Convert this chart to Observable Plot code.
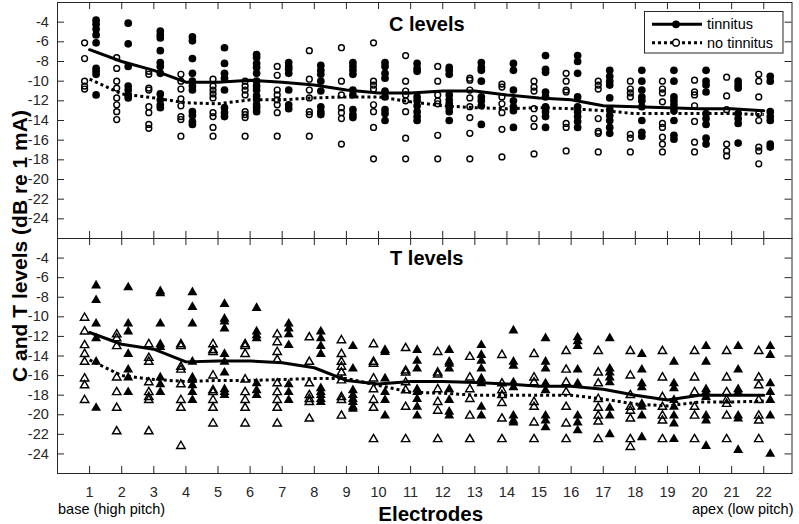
<!DOCTYPE html>
<html>
<head>
<meta charset="utf-8">
<script src="https://cdn.jsdelivr.net/npm/d3@7"></script>
<script src="https://cdn.jsdelivr.net/npm/@observablehq/plot@0.6"></script>
<style>
  html, body { margin: 0; padding: 0; background: #fff; }
  body { font-family: "Liberation Sans", Arial, Helvetica, sans-serif; }
  #wrap { position: relative; width: 799px; height: 524px; overflow: hidden; }
  #top, #bot { position: absolute; left: 0; }
  #top { top: 0; }
  #bot { top: 237px; }
  #ylab { position: absolute; left: 19px; top: 246px; transform: translate(-50%, -50%) rotate(-90deg);
          font-weight: bold; font-size: 21px; white-space: nowrap; color: #000; line-height: 1; }
  #legend { position: absolute; left: 644px; top: 11px; }
</style>
</head>
<body>
<div id="wrap">
  <div id="top"></div>
  <div id="bot"></div>
  <div id="ylab">C and T levels (dB re 1 mA)</div>
  <svg id="legend" width="140" height="43" font-family="Liberation Sans, Arial, sans-serif">
    <rect x="0.5" y="0.5" width="138.5" height="41.5" fill="#fff" stroke="#262626" stroke-width="1"></rect>
    <line x1="8" y1="13.3" x2="58" y2="13.3" stroke="#000" stroke-width="3"></line>
    <circle cx="32" cy="13.3" r="3.9" fill="#000"></circle>
    <text x="63" y="13.3" font-size="14.5" dominant-baseline="central" fill="#000">tinnitus</text>
    <line x1="8" y1="31.7" x2="58" y2="31.7" stroke="#000" stroke-width="3" stroke-dasharray="3,3"></line>
    <circle cx="32" cy="31.7" r="3.4" fill="#fff" stroke="#000" stroke-width="1.5"></circle>
    <text x="63" y="31.7" font-size="14.5" dominant-baseline="central" fill="#000">no tinnitus</text>
  </svg>
</div>
<script>
// ---------- data ----------
const electrodes = [1,2,3,4,5,6,7,8,9,10,11,12,13,14,15,16,17,18,19,20,21,22];
const yTicks = [-24,-22,-20,-18,-16,-14,-12,-10,-8,-6,-4];

// C levels, tinnitus group (filled circles), per electrode
const cTinnitus = [
  [-3.8,-4.2,-4.7,-5.3,-6.1,-8.7,-9.0,-9.3,-11.4],
  [-4.1,-6.2,-8.5,-10.5,-10.9,-11.4,-11.7],
  [-4.9,-5.3,-5.6,-6.9,-8.1,-8.5,-9.2,-11.3,-11.9,-12.4,-12.7],
  [-5.5,-5.9,-7.7,-9.2,-10.0,-10.5,-10.9,-13.1,-13.5,-14.1,-14.4],
  [-6.6,-8.2,-9.2,-9.7,-10.9,-12.7,-13.2,-13.6],
  [-7.3,-7.6,-8.2,-8.6,-9.2,-10.0,-10.5,-10.9,-11.5,-11.9,-12.4,-12.7,-13.1],
  [-8.1,-8.5,-8.8,-9.2,-10.9,-12.4,-12.8],
  [-8.4,-8.9,-9.3,-10.0,-11.0,-12.6,-13.1,-13.4],
  [-8.1,-8.5,-8.9,-9.3,-10.9,-11.4,-12.9,-13.4,-13.7],
  [-8.1,-8.5,-9.2,-9.7,-11.0,-11.6,-12.9,-13.3,-14.0],
  [-8.2,-8.7,-9.0,-11.6,-12.0,-12.5,-13.1,-13.6,-14.0],
  [-8.6,-8.9,-9.3,-11.4,-11.9,-12.3,-12.7,-13.1,-14.0],
  [-8.1,-8.6,-8.9,-10.0,-11.6,-12.0,-12.5,-14.4],
  [-8.2,-8.9,-10.9,-12.0,-12.6,-13.0,-14.7],
  [-7.4,-8.8,-9.1,-11.1,-11.6,-12.6,-13.1,-13.6,-14.7],
  [-7.4,-8.0,-9.2,-11.6,-12.6,-13.1,-13.6,-14.1,-14.7],
  [-8.9,-9.5,-10.0,-10.4,-11.7,-12.9,-13.5,-14.0,-14.7,-15.3],
  [-8.9,-10.0,-10.9,-11.6,-12.0,-12.6,-14.0,-15.2,-15.6],
  [-8.9,-10.0,-11.6,-12.0,-12.4,-13.0,-14.0,-15.5,-15.9],
  [-8.9,-10.0,-10.4,-11.1,-13.3,-13.8,-14.4,-15.8,-16.4],
  [-10.0,-10.4,-10.7,-13.3,-13.8,-14.3,-16.3],
  [-9.5,-10.0,-13.1,-13.6,-14.0,-16.4,-16.7]
];
// C levels, no-tinnitus group (open circles)
const cNoTinnitus = [
  [-6.1,-7.7,-10.0,-10.5,-10.8],
  [-7.6,-8.7,-10.0,-10.7,-11.7,-12.4,-13.1,-13.9],
  [-9.0,-9.3,-10.7,-10.9,-12.6,-13.2,-14.4,-14.8],
  [-9.3,-10.0,-10.8,-11.8,-12.5,-13.6,-13.9,-15.6],
  [-9.8,-10.5,-10.9,-11.3,-11.7,-13.2,-13.6,-14.7,-15.6],
  [-10.0,-10.5,-10.9,-11.4,-13.1,-13.4,-13.7,-15.6],
  [-8.5,-9.4,-10.9,-11.4,-11.9,-12.4,-13.2,-15.6],
  [-6.9,-9.8,-10.9,-11.7,-13.1,-13.4,-15.6],
  [-6.6,-10.0,-11.4,-12.7,-13.2,-13.8,-16.4],
  [-6.1,-10.0,-10.4,-10.8,-12.4,-13.1,-14.7,-17.9],
  [-7.4,-10.0,-11.0,-11.4,-12.0,-13.1,-15.8,-17.9],
  [-8.5,-10.0,-11.4,-12.0,-12.3,-15.5,-17.9],
  [-9.7,-9.9,-10.9,-11.7,-12.6,-13.7,-15.3,-17.9],
  [-10.3,-10.6,-11.6,-12.3,-13.2,-14.9,-17.7],
  [-10.0,-10.6,-11.0,-12.8,-13.8,-14.6,-17.4],
  [-9.2,-10.0,-10.9,-11.1,-14.3,-14.7,-17.1],
  [-10.0,-10.4,-10.8,-13.8,-15.1,-15.3,-17.2],
  [-10.0,-10.8,-11.2,-11.6,-15.4,-15.8,-17.2],
  [-10.0,-10.8,-11.2,-12.1,-14.3,-14.7,-15.7,-16.4,-17.2],
  [-9.9,-11.1,-11.4,-12.5,-14.1,-16.2,-17.2],
  [-9.6,-11.5,-12.9,-16.4,-17.1,-17.6],
  [-9.3,-10.0,-11.6,-13.3,-14.0,-16.7,-17.1,-18.4]
];
const cMeanTinnitus   = [-6.8,-8.0,-8.9,-10.1,-10.1,-9.9,-10.1,-10.4,-10.9,-11.2,-11.2,-11.0,-11.0,-11.4,-11.7,-11.9,-12.5,-12.6,-12.7,-12.8,-12.8,-13.0];
const cMeanNoTinnitus = [-9.8,-11.3,-11.7,-12.2,-12.3,-11.9,-11.9,-11.7,-11.6,-11.6,-12.1,-12.5,-12.7,-12.8,-12.7,-12.8,-13.0,-13.3,-13.3,-13.3,-13.3,-13.4];

// T levels, tinnitus group (filled triangles)
const tTinnitus = [
  [-6.8,-8.3,-10.7,-12.2,-14.6,-19.3],
  [-7.0,-10.7,-11.5,-13.8,-15.4,-16.2,-17.7],
  [-7.4,-7.6,-10.7,-12.8,-13.1,-16.2,-16.9,-17.7],
  [-7.5,-9.0,-10.7,-14.6,-16.2,-16.4,-17.0,-17.7,-18.5],
  [-8.7,-10.2,-10.5,-11.2,-13.8,-14.6,-15.7,-17.4,-17.7,-18.0],
  [-9.1,-11.5,-11.9,-12.2,-16.8,-17.5,-18.0],
  [-10.7,-11.2,-11.8,-12.9,-16.9,-17.7,-18.5],
  [-11.5,-12.2,-13.0,-13.8,-17.3,-17.7,-18.0,-18.4,-18.7],
  [-13.0,-15.3,-17.5,-18.0,-18.4,-18.7,-19.2,-19.4],
  [-13.4,-13.6,-16.3,-17.7,-18.5,-20.1],
  [-13.4,-14.5,-15.3,-17.4,-17.7,-18.4,-19.2,-20.1],
  [-13.4,-14.6,-14.8,-15.3,-17.4,-18.5,-19.7,-20.1],
  [-12.9,-13.9,-14.5,-15.3,-16.3,-16.8,-19.2,-20.1],
  [-11.4,-14.6,-15.0,-16.7,-17.2,-20.1,-20.6,-20.8],
  [-12.2,-14.6,-15.3,-16.8,-17.5,-20.1,-20.6,-21.3],
  [-12.1,-12.5,-13.0,-15.4,-16.8,-20.1,-20.8,-21.6],
  [-12.2,-15.3,-15.7,-16.2,-16.7,-19.3,-20.1,-22.0],
  [-13.8,-15.4,-16.8,-17.2,-18.9,-19.2,-20.1,-22.3],
  [-14.6,-16.8,-17.3,-18.5,-19.2,-20.1,-20.9,-22.5],
  [-13.0,-14.6,-17.4,-17.7,-18.2,-20.1,-20.6,-23.2],
  [-13.0,-15.4,-17.4,-17.7,-20.1,-20.4,-23.6],
  [-13.0,-13.9,-16.8,-17.7,-18.5,-20.1,-24.0]
];
// T levels, no-tinnitus group (open triangles)
const tNoTinnitus = [
  [-10.1,-11.5,-12.9,-13.8,-14.6,-16.3,-17.0,-18.5],
  [-11.8,-12.2,-13.0,-16.2,-17.7,-19.3,-21.7],
  [-12.8,-14.2,-14.6,-16.7,-17.7,-18.2,-18.5,-21.7],
  [-12.8,-13.0,-15.1,-15.4,-16.9,-18.5,-19.3,-23.2],
  [-12.8,-13.4,-13.6,-16.0,-17.5,-17.7,-18.5,-19.3,-20.9],
  [-12.8,-13.0,-13.8,-16.4,-17.7,-18.5,-19.3,-20.9],
  [-11.8,-12.6,-13.6,-14.4,-16.8,-17.7,-18.5,-19.3,-20.9],
  [-12.1,-14.6,-16.8,-18.0,-18.4,-18.7,-20.4],
  [-12.4,-13.8,-14.6,-15.1,-15.7,-16.5,-18.2,-18.5,-20.1],
  [-12.8,-14.6,-14.8,-16.3,-17.4,-18.5,-19.3,-22.5],
  [-13.2,-15.5,-15.7,-16.7,-17.5,-19.2,-22.5],
  [-13.6,-15.7,-15.9,-17.4,-18.7,-19.6,-22.5],
  [-14.1,-16.2,-17.4,-18.4,-20.1,-22.5],
  [-13.9,-16.8,-17.5,-18.0,-18.8,-20.4,-22.5],
  [-13.8,-16.2,-16.7,-18.7,-19.2,-20.8,-22.5],
  [-13.5,-15.4,-16.7,-17.7,-19.2,-20.9,-22.5],
  [-13.5,-15.7,-16.8,-18.4,-19.3,-20.1,-20.7,-22.5],
  [-13.5,-16.0,-18.0,-19.2,-19.6,-20.4,-22.5,-23.3],
  [-13.5,-16.2,-18.2,-19.2,-20.1,-20.6,-22.5],
  [-13.5,-16.2,-17.7,-19.2,-20.1,-22.5],
  [-13.5,-16.2,-17.7,-18.5,-18.9,-20.1,-22.5],
  [-13.5,-16.2,-17.0,-18.5,-20.1,-20.6,-22.5]
];
const tMeanTinnitus   = [-11.6,-12.8,-13.3,-14.6,-14.5,-14.5,-14.7,-15.2,-16.5,-16.85,-16.6,-16.6,-16.7,-16.85,-17.1,-17.1,-17.4,-18.0,-18.5,-18.0,-18.0,-18.0];
const tMeanNoTinnitus = [-14.4,-16.0,-16.4,-16.6,-16.5,-16.5,-16.4,-16.3,-16.3,-17.0,-17.7,-17.8,-18.0,-18.0,-18.0,-18.0,-18.4,-18.9,-19.1,-18.7,-18.7,-18.6];

// ---------- helpers ----------
const AX = "#262626";
const FONT = "Liberation Sans, Arial, Helvetica, sans-serif";
const WIDTH = 799, ML = 57, MR = 7.5, TICK = 7;
const X_DOMAIN = [0, 22.88], Y_DOMAIN = [-26, -2];
const flatten = groups => groups.flatMap((vals, i) => vals.map(v => ({electrode: electrodes[i], level: v})));
const series = means => means.map((v, i) => ({electrode: electrodes[i], level: v}));

function panel({title, tin, noTin, meanTin, meanNo, symbol, rFilled, rOpen, height, marginTop, marginBottom, xLabels, titleDy, extra = []}) {
  const innerW = WIDTH - ML - MR;
  const innerH = height - marginTop - marginBottom;
  // inward tick length converted to data units
  const tx = TICK * (X_DOMAIN[1] - X_DOMAIN[0]) / innerW;
  const ty = TICK * (Y_DOMAIN[1] - Y_DOMAIN[0]) / innerH;
  const tickStyle = {stroke: AX, strokeWidth: 1};
  return Plot.plot({
    width: WIDTH,
    height,
    marginLeft: ML,
    marginRight: MR,
    marginTop,
    marginBottom,
    style: {color: AX, fontFamily: FONT, background: "transparent", overflow: "visible"},
    x: {domain: X_DOMAIN},
    y: {domain: Y_DOMAIN},
    marks: [
      // tick labels (no outward ticks)
      Plot.axisX({ticks: electrodes, anchor: "bottom", tickSize: 0, tickPadding: 13.4,
                  tickFormat: xLabels ? d => String(d) : () => "", fontSize: 14.5, label: null}),
      Plot.axisY({ticks: yTicks, anchor: "left", tickSize: 0, tickPadding: 8.7,
                  tickFormat: d => String(d), fontSize: 14.5, label: null}),
      // inward tick marks on all four sides
      Plot.ruleX(electrodes, {x: d => d, y1: Y_DOMAIN[0], y2: Y_DOMAIN[0] + ty, ...tickStyle}),
      Plot.ruleX(electrodes, {x: d => d, y1: Y_DOMAIN[1], y2: Y_DOMAIN[1] - ty, ...tickStyle}),
      Plot.ruleY(yTicks, {y: d => d, x1: X_DOMAIN[0], x2: X_DOMAIN[0] + tx, ...tickStyle}),
      Plot.ruleY(yTicks, {y: d => d, x1: X_DOMAIN[1], x2: X_DOMAIN[1] - tx, ...tickStyle}),
      // data
      Plot.dot(flatten(noTin), {x: "electrode", y: "level", dx: -5, symbol, r: rOpen,
                                stroke: "#000", strokeWidth: 1.45, fill: "none"}),
      Plot.dot(flatten(tin), {x: "electrode", y: "level", dx: 6.5, symbol, r: rFilled,
                              fill: "#000", stroke: "none"}),
      Plot.line(series(meanNo), {x: "electrode", y: "level", stroke: "#000", strokeWidth: 3,
                                 strokeDasharray: "3,3", strokeLinecap: "butt", strokeLinejoin: "miter"}),
      Plot.line(series(meanTin), {x: "electrode", y: "level", stroke: "#000", strokeWidth: 3}),
      Plot.text([title], {text: d => d, frameAnchor: "top", dx: 2, dy: titleDy, lineAnchor: "middle",
                          fontWeight: "bold", fontSize: 20, fill: "#000"}),
      Plot.frame({stroke: AX, strokeWidth: 1}),
      ...extra
    ]
  });
}

const topPlot = panel({
  title: "C levels", tin: cTinnitus, noTin: cNoTinnitus, meanTin: cMeanTinnitus, meanNo: cMeanNoTinnitus,
  symbol: "circle", rFilled: 3.85, rOpen: 2.9, height: 240, marginTop: 2, marginBottom: 2,
  xLabels: false, titleDy: 22
});

const botPlot = panel({
  title: "T levels", tin: tTinnitus, noTin: tNoTinnitus, meanTin: tMeanTinnitus, meanNo: tMeanNoTinnitus,
  symbol: "triangle", rFilled: 3.7, rOpen: 3.1, height: 287, marginTop: 1, marginBottom: 51,
  xLabels: true, titleDy: 20.5,
  extra: [
    Plot.text(["base (high pitch)"], {text: d => d, frameAnchor: "bottom-left", textAnchor: "start",
                                      dx: 0.5, dy: 35.7, lineAnchor: "middle", fontSize: 14.5, fill: "#000"}),
    Plot.text(["apex (low pitch)"], {text: d => d, frameAnchor: "bottom-right", textAnchor: "end",
                                     dx: 1.5, dy: 35.7, lineAnchor: "middle", fontSize: 14.5, fill: "#000"}),
    Plot.text(["Electrodes"], {text: d => d, frameAnchor: "bottom", dx: 6, dy: 41, lineAnchor: "middle",
                               fontWeight: "bold", fontSize: 20.5, fill: "#000"})
  ]
});

document.getElementById("top").appendChild(topPlot);
document.getElementById("bot").appendChild(botPlot);
</script>
</body>
</html>
